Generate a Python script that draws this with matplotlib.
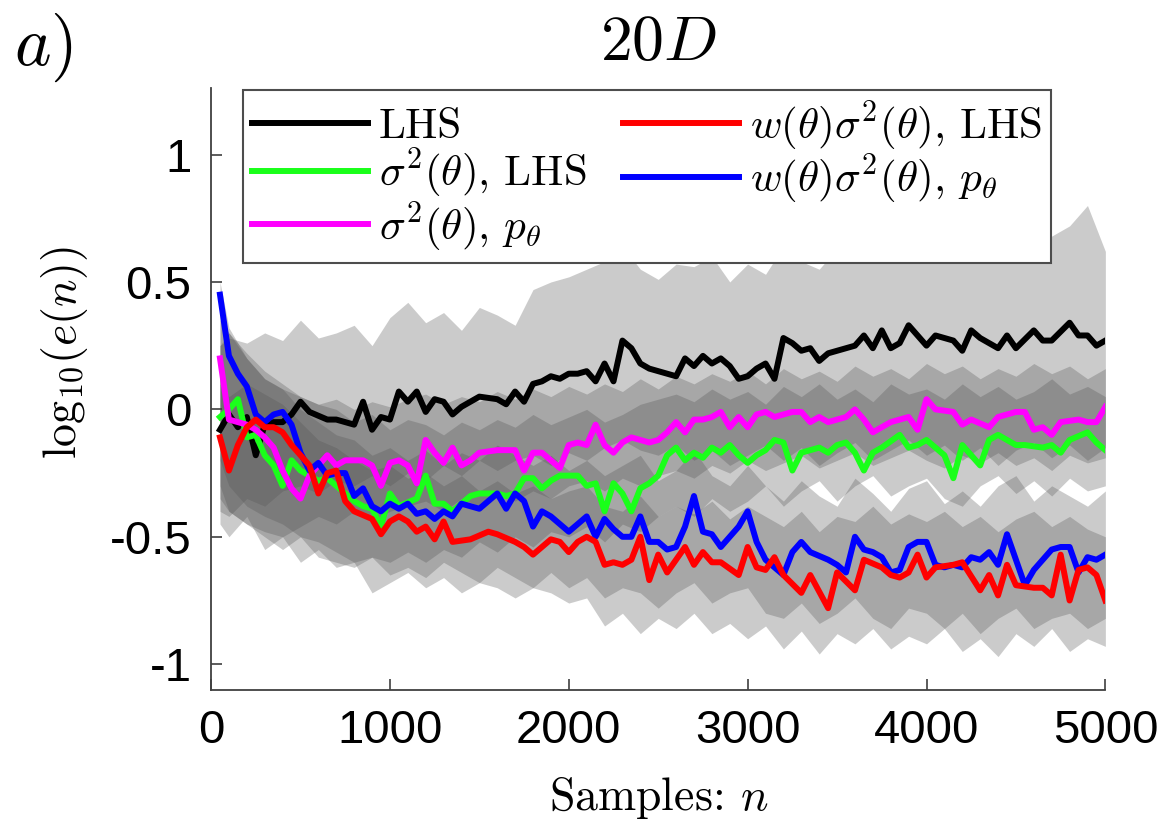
import numpy as np
import matplotlib
matplotlib.use('Agg')
import matplotlib.pyplot as plt
from matplotlib.ticker import FuncFormatter

plt.rcParams['mathtext.fontset'] = 'cm'
plt.rcParams['axes.unicode_minus'] = False
plt.rcParams['font.family'] = ['Liberation Sans', 'DejaVu Sans']

# --- mean curves ---
lhs_n = [50, 100, 150, 200, 250, 300, 350, 400, 450, 500,
         550, 650, 700, 800, 850, 900, 950, 1000, 1050, 1100,
         1150, 1200, 1250, 1300, 1350, 1400, 1500, 1600, 1650, 1700,
         1750, 1800, 1850, 1900, 1950, 2000, 2050, 2100, 2150, 2200,
         2250, 2300, 2350, 2400, 2450, 2550, 2600, 2650, 2700, 2750,
         2800, 2850, 2900, 2950, 3000, 3050, 3100, 3150, 3200, 3250,
         3300, 3350, 3400, 3450, 3550, 3600, 3650, 3700, 3750, 3800,
         3850, 3900, 3950, 4000, 4050, 4150, 4200, 4250, 4300, 4400,
         4450, 4500, 4600, 4650, 4700, 4800, 4850, 4900, 4950, 5000]
lhs_v = [-0.08, -0.02, -0.07, -0.03, -0.18, -0.06, -0.05, -0.05, -0.02, 0.03,
         -0.01, -0.04, -0.04, -0.06, 0.03, -0.08, -0.03, -0.04, 0.07, 0.03,
         0.07, -0.01, 0.04, 0.03, -0.02, 0.01, 0.05, 0.04, 0.02, 0.07,
         0.03, 0.10, 0.11, 0.13, 0.12, 0.14, 0.14, 0.15, 0.11, 0.18,
         0.11, 0.27, 0.24, 0.18, 0.16, 0.14, 0.13, 0.20, 0.17, 0.21,
         0.18, 0.20, 0.17, 0.12, 0.13, 0.16, 0.18, 0.12, 0.28, 0.26,
         0.23, 0.24, 0.19, 0.22, 0.24, 0.25, 0.29, 0.24, 0.31, 0.24,
         0.26, 0.33, 0.29, 0.25, 0.29, 0.27, 0.23, 0.31, 0.28, 0.24,
         0.29, 0.24, 0.31, 0.27, 0.27, 0.34, 0.29, 0.29, 0.25, 0.27]

sig_lhs_n = [50, 100, 150, 200, 250, 300, 350, 400, 450, 500,
             550, 600, 650, 700, 750, 800, 850, 900, 950, 1000,
             1050, 1150, 1200, 1250, 1300, 1350, 1400, 1450, 1500, 1600,
             1650, 1700, 1750, 1800, 1850, 1900, 1950, 2000, 2050, 2100,
             2150, 2200, 2250, 2300, 2350, 2400, 2450, 2500, 2550, 2600,
             2650, 2700, 2750, 2800, 2850, 2900, 2950, 3000, 3050, 3100,
             3150, 3200, 3250, 3300, 3400, 3450, 3500, 3550, 3600, 3650,
             3700, 3750, 3850, 3900, 3950, 4000, 4050, 4100, 4150, 4200,
             4250, 4300, 4350, 4400, 4500, 4550, 4650, 4700, 4750, 4800,
             4900, 4950, 5000]
sig_lhs_v = [-0.03, 0.00, 0.04, -0.11, -0.10, -0.18, -0.22, -0.30, -0.20, -0.24,
             -0.26, -0.28, -0.27, -0.30, -0.33, -0.36, -0.38, -0.39, -0.46, -0.33,
             -0.38, -0.35, -0.26, -0.37, -0.37, -0.40, -0.37, -0.34, -0.33, -0.33,
             -0.34, -0.33, -0.27, -0.27, -0.31, -0.28, -0.26, -0.26, -0.26, -0.30,
             -0.29, -0.40, -0.29, -0.33, -0.40, -0.31, -0.29, -0.26, -0.18, -0.15,
             -0.20, -0.17, -0.19, -0.15, -0.17, -0.14, -0.18, -0.21, -0.18, -0.16,
             -0.12, -0.13, -0.24, -0.17, -0.15, -0.17, -0.14, -0.13, -0.17, -0.24,
             -0.17, -0.15, -0.10, -0.15, -0.14, -0.12, -0.15, -0.18, -0.27, -0.14,
             -0.18, -0.22, -0.12, -0.10, -0.14, -0.14, -0.15, -0.14, -0.17, -0.12,
             -0.09, -0.13, -0.16]

sig_p_n = [50, 100, 150, 200, 250, 300, 350, 400, 450, 500,
           550, 600, 650, 700, 750, 800, 850, 900, 950, 1000,
           1050, 1100, 1150, 1200, 1250, 1300, 1350, 1400, 1450, 1500,
           1600, 1700, 1750, 1800, 1850, 1900, 1950, 2000, 2050, 2100,
           2150, 2200, 2250, 2300, 2350, 2400, 2450, 2500, 2550, 2600,
           2650, 2700, 2750, 2800, 2850, 2900, 2950, 3000, 3050, 3100,
           3150, 3250, 3300, 3350, 3400, 3450, 3550, 3600, 3650, 3700,
           3750, 3800, 3850, 3900, 3950, 4000, 4050, 4150, 4200, 4250,
           4350, 4400, 4500, 4550, 4600, 4650, 4700, 4750, 4850, 4900,
           4950, 5000]
sig_p_v = [0.20, -0.04, -0.05, -0.06, -0.08, -0.11, -0.15, -0.24, -0.31, -0.35,
           -0.26, -0.22, -0.18, -0.22, -0.20, -0.20, -0.20, -0.22, -0.30, -0.21,
           -0.20, -0.22, -0.29, -0.12, -0.17, -0.21, -0.15, -0.22, -0.20, -0.17,
           -0.16, -0.16, -0.24, -0.17, -0.17, -0.20, -0.23, -0.14, -0.13, -0.14,
           -0.06, -0.14, -0.17, -0.13, -0.11, -0.12, -0.13, -0.12, -0.09, -0.05,
           -0.09, -0.04, -0.04, -0.03, -0.01, -0.07, -0.03, -0.07, -0.02, -0.01,
           -0.03, -0.01, -0.01, -0.05, -0.03, -0.05, -0.03, 0.00, -0.04, -0.09,
           -0.07, -0.05, -0.04, -0.03, -0.08, 0.04, 0.00, -0.01, -0.06, -0.04,
           -0.07, -0.03, -0.01, -0.01, -0.08, -0.07, -0.10, -0.05, -0.04, -0.05,
           -0.05, 0.01]

wsig_lhs_n = [50, 100, 150, 200, 250, 300, 350, 400, 450, 500,
              550, 600, 650, 700, 750, 800, 900, 950, 1000, 1050,
              1100, 1150, 1200, 1250, 1300, 1350, 1450, 1550, 1600, 1700,
              1750, 1800, 1900, 1950, 2000, 2050, 2100, 2150, 2200, 2250,
              2300, 2350, 2400, 2450, 2500, 2550, 2600, 2650, 2700, 2750,
              2800, 2850, 2950, 3000, 3050, 3100, 3150, 3200, 3300, 3350,
              3450, 3500, 3600, 3650, 3750, 3800, 3850, 3900, 3950, 4000,
              4050, 4150, 4200, 4300, 4350, 4400, 4450, 4500, 4600, 4650,
              4700, 4750, 4800, 4850, 4900, 4950, 5000]
wsig_lhs_v = [-0.11, -0.24, -0.14, -0.07, -0.04, -0.07, -0.07, -0.09, -0.14, -0.18,
              -0.22, -0.33, -0.25, -0.24, -0.36, -0.40, -0.43, -0.49, -0.44, -0.42,
              -0.44, -0.48, -0.46, -0.51, -0.44, -0.52, -0.51, -0.48, -0.49, -0.52,
              -0.54, -0.57, -0.51, -0.52, -0.56, -0.52, -0.50, -0.52, -0.61, -0.60,
              -0.61, -0.59, -0.50, -0.67, -0.57, -0.64, -0.59, -0.54, -0.61, -0.56,
              -0.60, -0.60, -0.65, -0.54, -0.62, -0.63, -0.58, -0.65, -0.72, -0.65,
              -0.78, -0.64, -0.71, -0.59, -0.62, -0.65, -0.66, -0.64, -0.57, -0.66,
              -0.62, -0.61, -0.60, -0.71, -0.65, -0.73, -0.61, -0.69, -0.70, -0.70,
              -0.73, -0.57, -0.75, -0.63, -0.62, -0.65, -0.75]

wsig_p_n = [50, 100, 150, 200, 250, 300, 350, 400, 450, 500,
            550, 600, 650, 700, 750, 800, 850, 900, 950, 1000,
            1050, 1100, 1150, 1200, 1250, 1300, 1350, 1400, 1450, 1500,
            1600, 1650, 1700, 1750, 1800, 1850, 1900, 2000, 2050, 2100,
            2150, 2200, 2250, 2300, 2350, 2400, 2450, 2500, 2550, 2600,
            2650, 2700, 2750, 2800, 2850, 2900, 2950, 3000, 3050, 3100,
            3150, 3200, 3250, 3300, 3350, 3450, 3500, 3550, 3600, 3650,
            3700, 3750, 3800, 3850, 3900, 3950, 4000, 4050, 4100, 4150,
            4200, 4250, 4300, 4350, 4400, 4450, 4500, 4550, 4600, 4700,
            4750, 4800, 4850, 4900, 4950, 5000]
wsig_p_v = [0.45, 0.21, 0.14, 0.09, -0.02, -0.05, -0.02, -0.01, -0.06, -0.17,
            -0.24, -0.21, -0.26, -0.25, -0.25, -0.34, -0.31, -0.38, -0.40, -0.37,
            -0.39, -0.37, -0.41, -0.40, -0.43, -0.40, -0.42, -0.37, -0.38, -0.39,
            -0.33, -0.39, -0.33, -0.36, -0.46, -0.40, -0.42, -0.48, -0.45, -0.42,
            -0.50, -0.43, -0.47, -0.50, -0.50, -0.42, -0.52, -0.52, -0.55, -0.54,
            -0.46, -0.34, -0.48, -0.49, -0.54, -0.50, -0.46, -0.40, -0.52, -0.59,
            -0.62, -0.65, -0.56, -0.52, -0.56, -0.59, -0.61, -0.64, -0.50, -0.55,
            -0.56, -0.58, -0.64, -0.63, -0.54, -0.52, -0.52, -0.61, -0.62, -0.61,
            -0.62, -0.58, -0.59, -0.56, -0.61, -0.49, -0.59, -0.69, -0.63, -0.55,
            -0.54, -0.54, -0.64, -0.58, -0.59, -0.57]

# --- spread bands (upper / lower edges) ---
band_n = [50, 100, 200, 300, 400, 500, 600, 700, 800, 900,
          1000, 1100, 1200, 1300, 1400, 1500, 1600, 1700, 1800, 1900,
          2000, 2100, 2200, 2300, 2400, 2500, 2600, 2700, 2800, 2900,
          3000, 3100, 3200, 3300, 3400, 3500, 3600, 3700, 3800, 3900,
          4000, 4100, 4200, 4300, 4400, 4500, 4600, 4700, 4800, 4900, 5000]

lhs_hi = [0.25, 0.28, 0.26, 0.30, 0.27, 0.35, 0.28, 0.30, 0.33, 0.25,
          0.36, 0.42, 0.34, 0.38, 0.31, 0.40, 0.37, 0.33, 0.47, 0.50,
          0.52, 0.55, 0.58, 0.64, 0.55, 0.51, 0.57, 0.56, 0.60, 0.50,
          0.57, 0.53, 0.64, 0.58, 0.55, 0.63, 0.68, 0.72, 0.62, 0.70,
          0.64, 0.68, 0.60, 0.70, 0.62, 0.66, 0.60, 0.68, 0.72, 0.80, 0.62]
lhs_lo = [-0.40, -0.42, -0.35, -0.38, -0.32, -0.30, -0.33, -0.28, -0.30, -0.26,
          -0.30, -0.25, -0.28, -0.22, -0.26, -0.20, -0.24, -0.20, -0.18, -0.22,
          -0.17, -0.20, -0.15, -0.12, -0.16, -0.18, -0.14, -0.20, -0.16, -0.22,
          -0.18, -0.14, -0.20, -0.15, -0.22, -0.17, -0.13, -0.20, -0.16, -0.12,
          -0.18, -0.14, -0.20, -0.15, -0.22, -0.16, -0.13, -0.19, -0.14, -0.20, -0.15]

sig_lhs_hi = [0.25, 0.30, 0.22, 0.15, 0.10, 0.05, 0.02, 0.00, -0.05, -0.02,
              -0.08, -0.04, -0.06, -0.10, -0.05, -0.08, -0.04, -0.07, -0.02, -0.06,
              -0.03, 0.00, -0.05, -0.02, 0.02, 0.04, 0.06, 0.03, 0.08, 0.04,
              0.07, 0.02, 0.09, 0.05, 0.10, 0.04, 0.08, 0.03, 0.10, 0.06,
              0.08, 0.04, 0.10, 0.05, 0.09, 0.04, 0.07, 0.12, 0.06, 0.09, 0.05]
sig_lhs_lo = [-0.35, -0.40, -0.45, -0.50, -0.55, -0.50, -0.58, -0.60, -0.62, -0.58,
              -0.60, -0.56, -0.60, -0.55, -0.58, -0.52, -0.56, -0.50, -0.54, -0.48,
              -0.50, -0.46, -0.52, -0.45, -0.48, -0.42, -0.38, -0.42, -0.35, -0.40,
              -0.36, -0.30, -0.38, -0.32, -0.28, -0.36, -0.30, -0.26, -0.34, -0.30,
              -0.27, -0.35, -0.38, -0.30, -0.26, -0.33, -0.28, -0.34, -0.27, -0.32, -0.30]

sig_p_hi = [0.35, 0.30, 0.20, 0.12, 0.08, 0.05, 0.02, 0.04, 0.00, 0.03,
            0.01, 0.04, 0.06, 0.02, 0.05, 0.03, 0.07, 0.04, 0.08, 0.05,
            0.09, 0.06, 0.10, 0.07, 0.12, 0.08, 0.13, 0.10, 0.14, 0.11,
            0.15, 0.10, 0.16, 0.12, 0.15, 0.11, 0.17, 0.13, 0.16, 0.12,
            0.18, 0.14, 0.17, 0.12, 0.16, 0.13, 0.18, 0.14, 0.17, 0.12, 0.16]
sig_p_lo = [-0.30, -0.40, -0.45, -0.48, -0.50, -0.46, -0.42, -0.45, -0.40, -0.44,
            -0.40, -0.38, -0.36, -0.40, -0.35, -0.38, -0.33, -0.36, -0.32, -0.35,
            -0.30, -0.28, -0.32, -0.27, -0.30, -0.26, -0.24, -0.27, -0.22, -0.25,
            -0.20, -0.24, -0.21, -0.18, -0.23, -0.20, -0.17, -0.22, -0.19, -0.16,
            -0.20, -0.23, -0.18, -0.21, -0.17, -0.22, -0.19, -0.24, -0.18, -0.21, -0.19]

wsig_lhs_hi = [0.10, 0.05, 0.10, 0.06, 0.02, -0.05, -0.12, -0.15, -0.20, -0.24,
               -0.22, -0.27, -0.25, -0.30, -0.26, -0.32, -0.28, -0.33, -0.30, -0.35,
               -0.32, -0.30, -0.38, -0.40, -0.34, -0.42, -0.38, -0.41, -0.36, -0.43,
               -0.38, -0.42, -0.46, -0.40, -0.48, -0.42, -0.44, -0.38, -0.45, -0.41,
               -0.44, -0.40, -0.46, -0.42, -0.48, -0.43, -0.40, -0.46, -0.42, -0.47, -0.50]
wsig_lhs_lo = [-0.45, -0.50, -0.42, -0.55, -0.50, -0.60, -0.55, -0.62, -0.60, -0.72,
               -0.68, -0.64, -0.70, -0.66, -0.72, -0.68, -0.70, -0.74, -0.70, -0.72,
               -0.76, -0.74, -0.85, -0.80, -0.88, -0.82, -0.86, -0.80, -0.88, -0.84,
               -0.90, -0.85, -0.94, -0.87, -0.96, -0.88, -0.92, -0.86, -0.94, -0.89,
               -0.92, -0.86, -0.95, -0.90, -0.97, -0.88, -0.93, -0.86, -0.95, -0.90, -0.93]

wsig_p_hi = [0.50, 0.32, 0.20, 0.12, 0.08, 0.00, -0.05, -0.10, -0.12, -0.18,
             -0.15, -0.20, -0.16, -0.22, -0.17, -0.20, -0.14, -0.18, -0.22, -0.18,
             -0.24, -0.20, -0.26, -0.22, -0.18, -0.28, -0.24, -0.16, -0.26, -0.30,
             -0.22, -0.30, -0.36, -0.28, -0.34, -0.38, -0.27, -0.33, -0.40, -0.31,
             -0.28, -0.37, -0.32, -0.38, -0.30, -0.26, -0.36, -0.30, -0.34, -0.38, -0.32]
wsig_p_lo = [-0.20, -0.30, -0.38, -0.42, -0.45, -0.50, -0.52, -0.56, -0.60, -0.58,
             -0.65, -0.62, -0.66, -0.60, -0.64, -0.68, -0.62, -0.66, -0.70, -0.64,
             -0.70, -0.66, -0.74, -0.70, -0.72, -0.78, -0.72, -0.68, -0.76, -0.72,
             -0.70, -0.80, -0.82, -0.76, -0.84, -0.80, -0.74, -0.82, -0.86, -0.78,
             -0.80, -0.86, -0.80, -0.88, -0.82, -0.78, -0.86, -0.82, -0.80, -0.86, -0.82]

fig = plt.figure(figsize=(11.66, 8.25), dpi=100)
ax = fig.add_axes([0.181, 0.164, 0.767, 0.729])

# shaded spreads, one per method
for lo, hi in [(lhs_lo, lhs_hi), (sig_lhs_lo, sig_lhs_hi), (sig_p_lo, sig_p_hi),
               (wsig_lhs_lo, wsig_lhs_hi), (wsig_p_lo, wsig_p_hi)]:
    ax.fill_between(band_n, lo, hi, color=(0.33, 0.33, 0.33), alpha=0.3, linewidth=0)

lw = 4.3
l1, = ax.plot(lhs_n, lhs_v, color='k', lw=lw, label='LHS')
l2, = ax.plot(sig_lhs_n, sig_lhs_v, color=(0.1, 1.0, 0.1), lw=lw,
              label=r'$\sigma^2(\theta)$, LHS')
l3, = ax.plot(sig_p_n, sig_p_v, color=(1.0, 0.0, 1.0), lw=lw,
              label=r'$\sigma^2(\theta)$, $p_\theta$')
l5, = ax.plot(wsig_p_n, wsig_p_v, color=(0.0, 0.0, 1.0), lw=lw,
              label=r'$w(\theta)\sigma^2(\theta)$, $p_\theta$')
l4, = ax.plot(wsig_lhs_n, wsig_lhs_v, color=(1.0, 0.0, 0.0), lw=lw,
              label=r'$w(\theta)\sigma^2(\theta)$, LHS')

ax.set_xlim(0, 5000)
ax.set_ylim(-1.1, 1.26)
ax.set_xticks([0, 1000, 2000, 3000, 4000, 5000])
ax.set_yticks([-1, -0.5, 0, 0.5, 1])
ax.yaxis.set_major_formatter(FuncFormatter(lambda v, p: '%g' % v))
ax.tick_params(direction='in', length=8, width=1.2, labelsize=34, pad=14, color='0.25')
for s in ['top', 'right']:
    ax.spines[s].set_visible(False)
for s in ['left', 'bottom']:
    ax.spines[s].set_color('0.25')
    ax.spines[s].set_linewidth(1.3)

ax.set_title(r'$20D$', fontsize=46, pad=20)
fig.text(0.012, 0.921, r'$a)$', fontsize=50, va='baseline')
ax.set_ylabel(r'$\mathrm{log}_{10}(e(n))$', fontsize=33)
ax.yaxis.set_label_coords(-0.135, 0.561)
ax.set_xlabel('Samples: $n$', fontsize=33, family='cmr10')
ax.xaxis.set_label_coords(0.5, -0.141)

leg = ax.legend(handles=[l1, l2, l3, l4, l5], ncol=2, loc='upper left',
                bbox_to_anchor=(0.036, 0.997), prop={'family': 'cmr10', 'size': 31},
                fancybox=False, edgecolor='0.3', framealpha=1, handlelength=2.7,
                handletextpad=0.25, columnspacing=0.85, labelspacing=0.0,
                borderpad=0.2, borderaxespad=0)
leg.get_frame().set_linewidth(1.5)

fig.savefig('out.png', dpi=100)
